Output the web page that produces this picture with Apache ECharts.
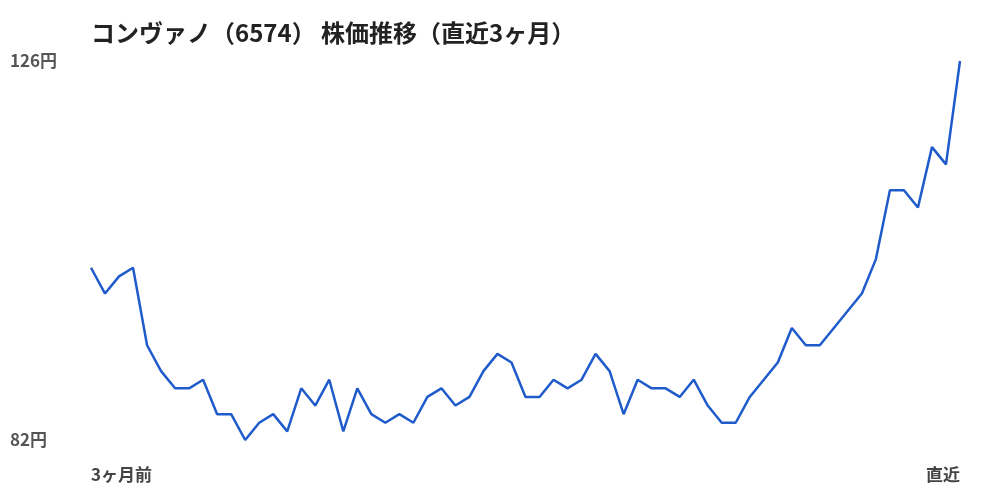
<!DOCTYPE html>
<html>
<head>
    <meta charset="utf-8">
    <title>コンヴァノ 株価推移</title>
    <script src="https://cdn.jsdelivr.net/npm/echarts@6/dist/echarts.min.js"></script>
    <style>
        body { margin: 0; background: #fff; }
        #chart { width: 1000px; height: 500px; }
    </style>
</head>
<body>
<div id="chart"></div>

<script>
    // daily closing prices, 3 months ago -> latest (yen)
    var prices = [
        102, 99, 101, 102, 93, 90, 88, 88, 89, 85,
        85, 82, 84, 85, 83, 88, 86, 89, 83, 88,
        85, 84, 85, 84, 87, 88, 86, 87, 90, 92,
        91, 87, 87, 89, 88, 89, 92, 90, 85, 89,
        88, 88, 87, 89, 86, 84, 84, 87, 89, 91,
        95, 93, 93, 95, 97, 99, 103, 111, 111, 109,
        116, 114, 126
    ];
    var xLabels = ['3ヶ月前', '直近'];
    var yMin = 82;
    var yMax = 126;

    var days = prices.map(function (v, i) { return i; });
    var last = prices.length - 1;

    var chart = echarts.init(document.getElementById('chart'));

    var option = {
        animation: false,
        textStyle: { fontFamily: '"Noto Sans CJK JP", "Noto Sans", sans-serif' },
        title: {
            text: 'コンヴァノ（6574） 株価推移（直近3ヶ月）',
            left: 86,
            top: 16,
            textStyle: {
                fontSize: 24,
                fontWeight: 'bold',
                color: '#222',
                fontFamily: '"Noto Sans CJK JP", sans-serif'
            }
        },
        grid: {
            left: 91,
            right: 40,
            top: 61,
            bottom: 60
        },
        xAxis: {
            type: 'category',
            data: days,
            boundaryGap: false,
            axisLine: { show: false },
            axisTick: { show: false },
            splitLine: { show: false },
            axisLabel: {
                interval: function (i) { return i === 0 || i === last; },
                formatter: function (v, i) { return i === 0 ? xLabels[0] : xLabels[1]; },
                alignMinLabel: 'left',
                alignMaxLabel: 'right',
                margin: 26,
                fontSize: 17,
                fontWeight: 'bold',
                color: '#444'
            }
        },
        yAxis: {
            type: 'value',
            min: yMin,
            max: yMax,
            interval: yMax - yMin,
            axisLine: { show: false },
            axisTick: { show: false },
            splitLine: { show: false },
            axisLabel: {
                formatter: '{value}円',
                align: 'left',
                margin: 81,
                fontSize: 17,
                fontWeight: 'bold',
                color: '#555'
            }
        },
        series: [{
            type: 'line',
            data: prices,
            symbol: 'none',
            lineStyle: { color: '#1f5bcb', width: 2.5 }
        }]
    };

    chart.setOption(option);
</script>
</body>
</html>
